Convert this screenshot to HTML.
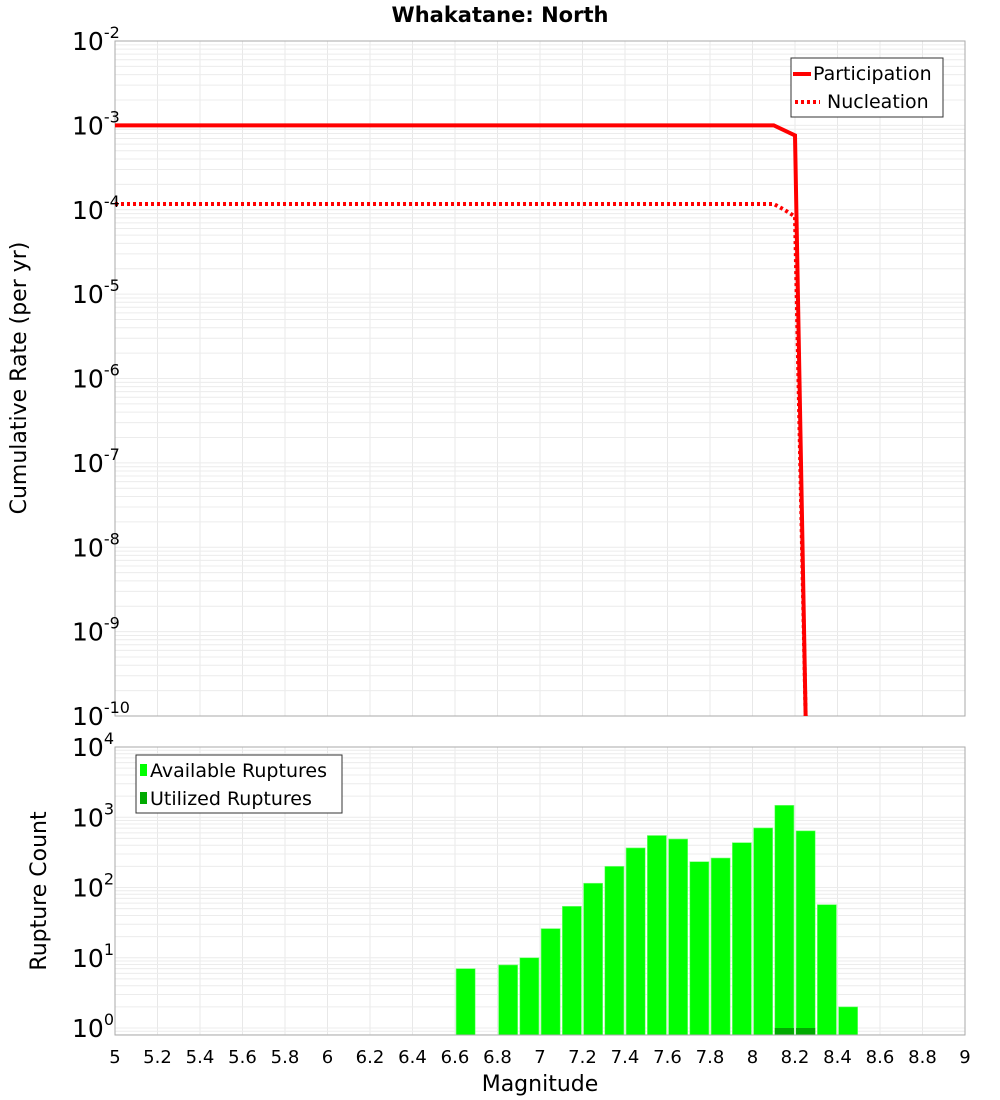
<!DOCTYPE html>
<html><head><meta charset="utf-8"><style>
body{margin:0;background:#fff;}
svg{display:block;font-family:"DejaVu Sans","Liberation Sans",sans-serif;}
</style></head><body>
<svg id="c" width="1000" height="1100" viewBox="0 0 1000 1100"></svg>
<script>
const partMags=[5.0,8.1,8.2,8.25,8.3];
const partRates=[1e-3,1e-3,7.6e-4,1e-10,1e-12];
const nuclMags=[5.0,8.1,8.15,8.2,8.25,8.3];
const nuclRates=[1.17e-4,1.17e-4,1.0e-4,8.3e-5,1e-10,1e-12];
const binCenters=[6.65,6.85,6.95,7.05,7.15,7.25,7.35,7.45,7.55,7.65,7.75,7.85,7.95,8.05,8.15,8.25,8.35,8.45];
const availCounts=[7,7.9,10,26,54,115,200,366,550,490,233,263,435,705,1480,640,57,2];
const usedCounts=[0,0,0,0,0,0,0,0,0,0,0,0,0,0,1,1,0,0];
const xTicks=[5,5.2,5.4,5.6,5.8,6,6.2,6.4,6.6,6.8,7,7.2,7.4,7.6,7.8,8,8.2,8.4,8.6,8.8,9];
const topExps=[-2,-3,-4,-5,-6,-7,-8,-9,-10];
const botExps=[4,3,2,1,0];

const NS='http://www.w3.org/2000/svg';
const svg=document.getElementById('c');
function el(t,a,p){const e=document.createElementNS(NS,t);for(const k in a)e.setAttribute(k,a[k]);(p||svg).appendChild(e);return e;}
const L=115,R=965;
const X=m=>L+(m-5)/4*(R-L);
const T0=41,T1=716;
const Yt=v=>T0+(-2-Math.log10(v))/8*(T1-T0);
const B0=747,Bd=70.25;
const Yb=v=>B0+(4-Math.log10(v))*Bd;
const B1=1035;

// title
const title=el('text',{x:500,y:22,'text-anchor':'middle','font-size':21,'font-weight':'bold'});
title.textContent='Whakatane: North';



function grid(g,y0,y1,ymap,eLo,eHi){
  for(const t of xTicks){el('line',{x1:X(t),x2:X(t),y1:y0,y2:y1,stroke:'#e8e8e8','stroke-width':1},g);}
  for(let e=eLo;e<eHi;e++){for(let k=1;k<10;k++){const y=ymap(k*Math.pow(10,e));if(y>=y0&&y<=y1)el('line',{x1:L,x2:R,y1:y,y2:y,stroke:'#ececec','stroke-width':1},g);}}
}
// top plot
const gt=el('g',{});


grid(gt,T0,T1,Yt,-10,-2);
el('rect',{x:L,y:T0,width:R-L,height:T1-T0,fill:'none',stroke:'#aaa'},gt);
const clipT=el('clipPath',{id:'ct'});el('rect',{x:L,y:T0,width:R-L,height:T1-T0},clipT);
const pl=el('polyline',{points:partMags.map((m,i)=>X(m)+','+Yt(partRates[i])).join(' '),fill:'none',stroke:'#f00','stroke-width':4,'clip-path':'url(#ct)'},gt);


const nl=el('polyline',{points:nuclMags.map((m,i)=>X(m)+','+Yt(nuclRates[i])).join(' '),fill:'none',stroke:'#f00','stroke-width':4,'stroke-dasharray':'3,3','clip-path':'url(#ct)'},gt);


topExps.forEach(e=>{
  const y=Yt(Math.pow(10,e));
  const t=el('text',{x:72,y:y+9,'font-size':25},gt);
  t.innerHTML='10<tspan dy="-12" font-size="16">'+e+'</tspan>';
  
  
});
const yt1=el('text',{transform:'translate(26,378) rotate(-90)','text-anchor':'middle','font-size':22});
yt1.textContent='Cumulative Rate (per yr)';


// legend top
const lg=el('g',{});


el('rect',{x:791,y:58,width:152,height:59,fill:'#fff',stroke:'#333'},lg);
el('line',{x1:793,x2:811,y1:74,y2:74,stroke:'#f00','stroke-width':4},lg);
el('text',{x:813,y:80,'font-size':19},lg).textContent='Participation';
el('line',{x1:795,x2:820,y1:102,y2:102,stroke:'#f00','stroke-width':4,'stroke-dasharray':'3,3'},lg);
el('text',{x:827,y:108,'font-size':19},lg).textContent='Nucleation';

// bottom plot
const gb=el('g',{});


grid(gb,B0,B1,Yb,-1,4);
binCenters.forEach((m,i)=>{
  if(availCounts[i]>0){const y=Yb(availCounts[i]);const r=el('rect',{x:X(m-0.045),y:y,width:X(0.09)-X(0),height:B1-y,fill:'#00ff00',stroke:'#7fff7f','stroke-width':0.6},gb);
  
  }
  if(usedCounts[i]>0){const y=Yb(usedCounts[i]);const r=el('rect',{x:X(m-0.045),y:y,width:X(0.09)-X(0),height:B1-y,fill:'#00aa00'},gb);
  
  }
});
el('rect',{x:L,y:B0,width:R-L,height:B1-B0,fill:'none',stroke:'#aaa'},gb);
botExps.forEach(e=>{
  const y=Yb(Math.pow(10,e));
  const t=el('text',{x:72,y:y+9,'font-size':25},gb);
  t.innerHTML='10<tspan dy="-12" font-size="16">'+e+'</tspan>';
  
  
});
const yt2=el('text',{transform:'translate(46,891) rotate(-90)','text-anchor':'middle','font-size':22});
yt2.textContent='Rupture Count';


xTicks.forEach(t=>{
  const tx=el('text',{x:X(t),y:1063,'text-anchor':'middle','font-size':18});
  tx.textContent=String(t);
  
  
});
const xt=el('text',{x:540,y:1091,'text-anchor':'middle','font-size':22});
xt.textContent='Magnitude';


// legend bottom
const lb=el('g',{});


el('rect',{x:136,y:755,width:206,height:58,fill:'#fff',stroke:'#333'},lb);
el('rect',{x:140,y:764,width:7,height:12,fill:'#00ff00'},lb);
el('text',{x:150,y:777,'font-size':19},lb).textContent='Available Ruptures';
el('rect',{x:140,y:792,width:7,height:12,fill:'#00aa00'},lb);
el('text',{x:150,y:805,'font-size':19},lb).textContent='Utilized Ruptures';
</script>
</body></html>
